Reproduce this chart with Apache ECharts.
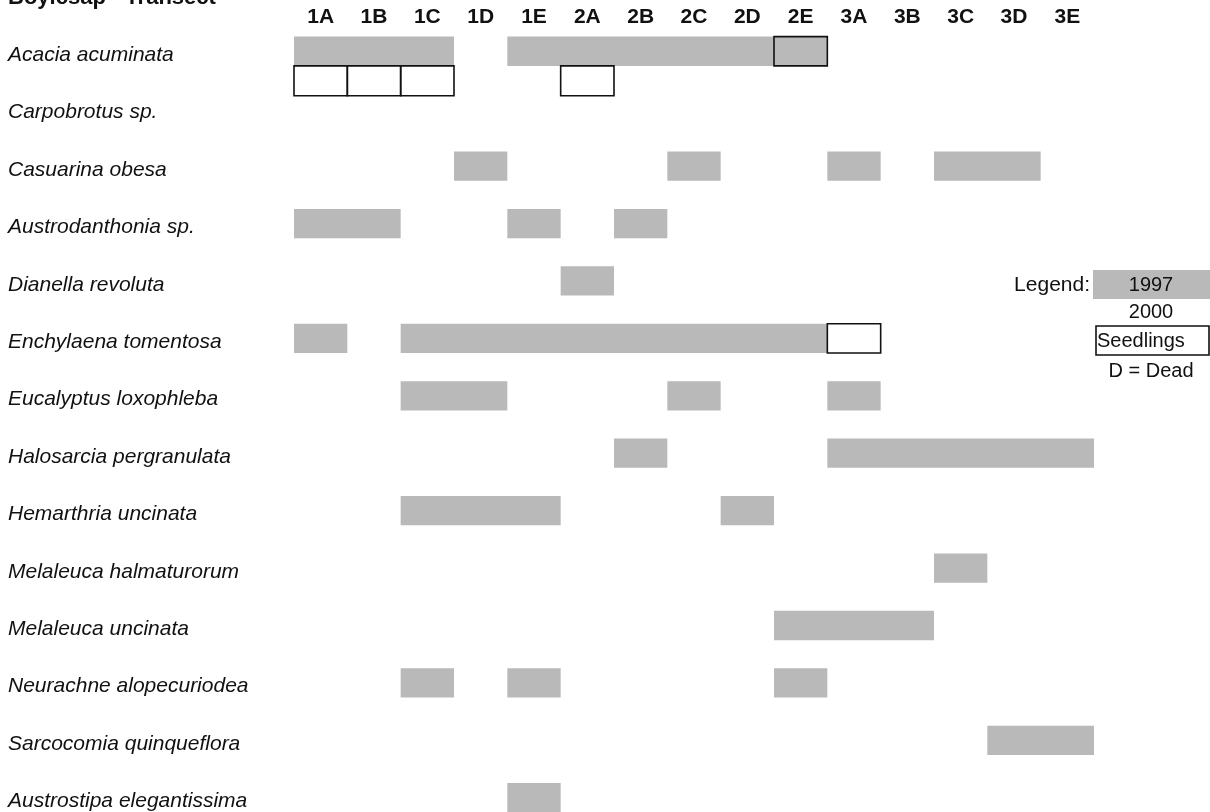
<!DOCTYPE html>
<html>
<head>
<meta charset="utf-8">
<script src="https://cdn.jsdelivr.net/npm/echarts@6/dist/echarts.min.js"></script>
<style>
html,body{margin:0;padding:0;background:#fff;}
#chart{width:1210px;height:812px;}
</style>
</head>
<body>
<div id="chart"></div>
<script>
// ---- data ----
const columns = ['1A','1B','1C','1D','1E','2A','2B','2C','2D','2E','3A','3B','3C','3D','3E'];
const species = [
  'Acacia acuminata','Carpobrotus sp.','Casuarina obesa','Austrodanthonia sp.',
  'Dianella revoluta','Enchylaena tomentosa','Eucalyptus loxophleba','Halosarcia pergranulata',
  'Hemarthria uncinata','Melaleuca halmaturorum','Melaleuca uncinata','Neurachne alopecuriodea',
  'Sarcocomia quinqueflora','Austrostipa elegantissima'
];
// [species, from column, to column] present in 1997
const present1997 = [
  ['Acacia acuminata','1A','1C'], ['Acacia acuminata','1E','2E'],
  ['Casuarina obesa','1D','1D'], ['Casuarina obesa','2C','2C'], ['Casuarina obesa','3A','3A'], ['Casuarina obesa','3C','3D'],
  ['Austrodanthonia sp.','1A','1B'], ['Austrodanthonia sp.','1E','1E'], ['Austrodanthonia sp.','2B','2B'],
  ['Dianella revoluta','2A','2A'],
  ['Enchylaena tomentosa','1A','1A'], ['Enchylaena tomentosa','1C','2E'],
  ['Eucalyptus loxophleba','1C','1D'], ['Eucalyptus loxophleba','2C','2C'], ['Eucalyptus loxophleba','3A','3A'],
  ['Halosarcia pergranulata','2B','2B'], ['Halosarcia pergranulata','3A','3E'],
  ['Hemarthria uncinata','1C','1E'], ['Hemarthria uncinata','2D','2D'],
  ['Melaleuca halmaturorum','3C','3C'],
  ['Melaleuca uncinata','2E','3B'],
  ['Neurachne alopecuriodea','1C','1C'], ['Neurachne alopecuriodea','1E','1E'], ['Neurachne alopecuriodea','2E','2E'],
  ['Sarcocomia quinqueflora','3D','3E'],
  ['Austrostipa elegantissima','1E','1E']
];
// [species, column, line] seedlings (line 0 = on the species line, 1 = second line below)
const seedlings = [
  ['Acacia acuminata','1A',1], ['Acacia acuminata','1B',1], ['Acacia acuminata','1C',1], ['Acacia acuminata','2A',1],
  ['Acacia acuminata','2E',0],
  ['Enchylaena tomentosa','3A',0]
];
const legendItems = ['1997','2000','Seedlings','D = Dead'];

// ---- build ----
const FONT = "'Liberation Sans', Arial, sans-serif";
const GREY = '#b9b9b9';
const barData = present1997.map(d => [columns.indexOf(d[1]), species.indexOf(d[0]), columns.indexOf(d[2])]);
const seedData = seedlings.map(d => [columns.indexOf(d[1]), species.indexOf(d[0]), d[2]]);

function renderBar(params, api){
  const c0 = api.value(0), row = api.value(1), c1 = api.value(2);
  const p = api.coord([c0, row]);
  const bw = api.size([1,0])[0];
  const rh = api.size([0,1])[1];
  return {
    type:'rect',
    shape:{x:p[0]-bw/2, y:p[1]-0.32*rh, width:(c1-c0+1)*bw, height:0.51*rh},
    style:{fill:GREY}
  };
}
function renderSeed(params, api){
  const c = api.value(0), row = api.value(1), lane = api.value(2);
  const p = api.coord([c, row]);
  const bw = api.size([1,0])[0];
  const rh = api.size([0,1])[1];
  const top = lane ? p[1]+0.19*rh : p[1]-0.32*rh;
  return {
    type:'rect',
    shape:{x:p[0]-bw/2, y:top, width:bw, height:lane ? 0.52*rh : 0.51*rh},
    style:{fill:'rgba(255,255,255,0)', stroke:'#111', lineWidth:1.6}
  };
}

const chart = echarts.init(document.getElementById('chart'));
chart.setOption({
  backgroundColor:'#fff',
  animation:false,
  grid:{left:294, top:55, width:800, height:747.5},
  xAxis:{
    type:'category', data:columns, position:'top',
    axisLine:{show:false}, axisTick:{show:false}, splitLine:{show:false},
    axisLabel:{fontFamily:FONT, fontWeight:'bold', fontSize:21, color:'#111', margin:27}
  },
  yAxis:{
    type:'value', inverse:true, min:0, max:species.length-1, interval:1,
    axisLine:{show:false}, axisTick:{show:false}, splitLine:{show:false},
    axisLabel:{fontFamily:FONT, fontStyle:'italic', fontSize:21, color:'#111', align:'left', margin:286,
      formatter: v => species[v] || ''}
  },
  series:[
    {type:'custom', name:'1997', renderItem:renderBar, data:barData, encode:{x:0, y:1}, z:2},
    {type:'custom', name:'Seedlings', renderItem:renderSeed, data:seedData, encode:{x:0, y:1}, z:3}
  ],
  graphic:[
    {type:'text', left:8, top:-13, style:{text:'Boyicsap - Transect', font:"bold 22px "+FONT, fill:'#111'}},
    {type:'text', x:1090, y:285, style:{text:'Legend:', font:"21px "+FONT, fill:'#111', align:'right', verticalAlign:'middle'}},
    {type:'rect', shape:{x:1093, y:270, width:117, height:29}, style:{fill:GREY}},
    {type:'text', x:1151, y:285, style:{text:legendItems[0], font:"20px "+FONT, fill:'#111', align:'center', verticalAlign:'middle'}},
    {type:'text', x:1151, y:312, style:{text:legendItems[1], font:"20px "+FONT, fill:'#111', align:'center', verticalAlign:'middle'}},
    {type:'rect', shape:{x:1096, y:326, width:113, height:29}, style:{fill:'#fff', stroke:'#111', lineWidth:1.6}},
    {type:'text', x:1097, y:341, style:{text:legendItems[2], font:"20px "+FONT, fill:'#111', align:'left', verticalAlign:'middle'}},
    {type:'text', x:1151, y:371, style:{text:legendItems[3], font:"20px "+FONT, fill:'#111', align:'center', verticalAlign:'middle'}}
  ]
});
</script>
</body>
</html>
